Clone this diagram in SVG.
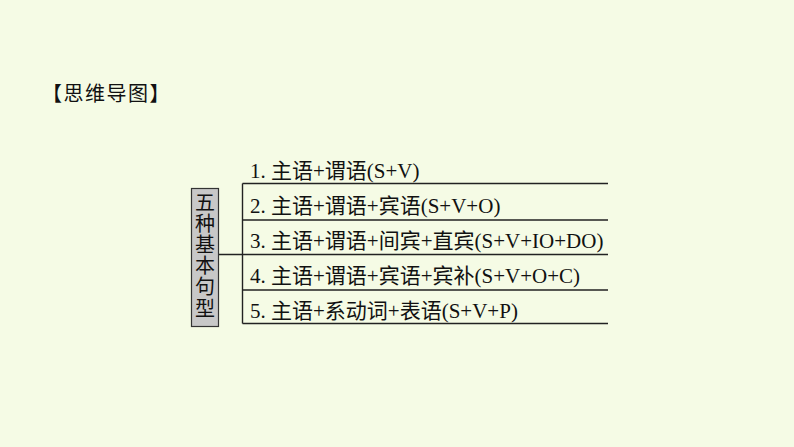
<svg xmlns="http://www.w3.org/2000/svg" width="794" height="447" viewBox="0 0 794 447">
<style>
.t{font-family:"Liberation Serif","Noto Sans CJK SC",serif;font-size:21px;fill:#111}
.v{font-family:"Noto Sans CJK SC",serif;font-size:20px;fill:#111;writing-mode:vertical-rl}
.h{font-family:"Noto Sans CJK SC",sans-serif;font-size:20px;fill:#111;letter-spacing:1.5px}
.ln{stroke:#222;stroke-width:1.4;fill:none}
</style>
<rect width="794" height="447" fill="#F5FBE5"/>
<g id="title"><text class="h" x="42" y="101">【思维导图】</text></g>
<g id="connectors">
<path class="ln" d="M219 254.5H242.5M242.5 183.5V323.5M242.5 183.5H608M242.5 220H608M242.5 254.5H608M242.5 290H608M242.5 323.5H608"/>
</g>
<g id="root">
<rect x="191.5" y="188.5" width="27" height="138" fill="#C8C8C8" stroke="#333" stroke-width="1.2"/>
<text class="v" x="205" y="192">五</text>
<text class="v" x="205" y="213.2">种</text>
<text class="v" x="205" y="234.4">基</text>
<text class="v" x="205" y="255.6">本</text>
<text class="v" x="205" y="276.8">句</text>
<text class="v" x="205" y="298">型</text>
</g>
<g id="item1"><text class="t" x="250" y="178">1. 主语+谓语(S+V)</text></g>
<g id="item2"><text class="t" x="250" y="213">2. 主语+谓语+宾语(S+V+O)</text></g>
<g id="item3"><text class="t" x="250" y="248">3. 主语+谓语+间宾+直宾(S+V+IO+DO)</text></g>
<g id="item4"><text class="t" x="250" y="283">4. 主语+谓语+宾语+宾补(S+V+O+C)</text></g>
<g id="item5"><text class="t" x="250" y="318">5. 主语+系动词+表语(S+V+P)</text></g>
</svg>
